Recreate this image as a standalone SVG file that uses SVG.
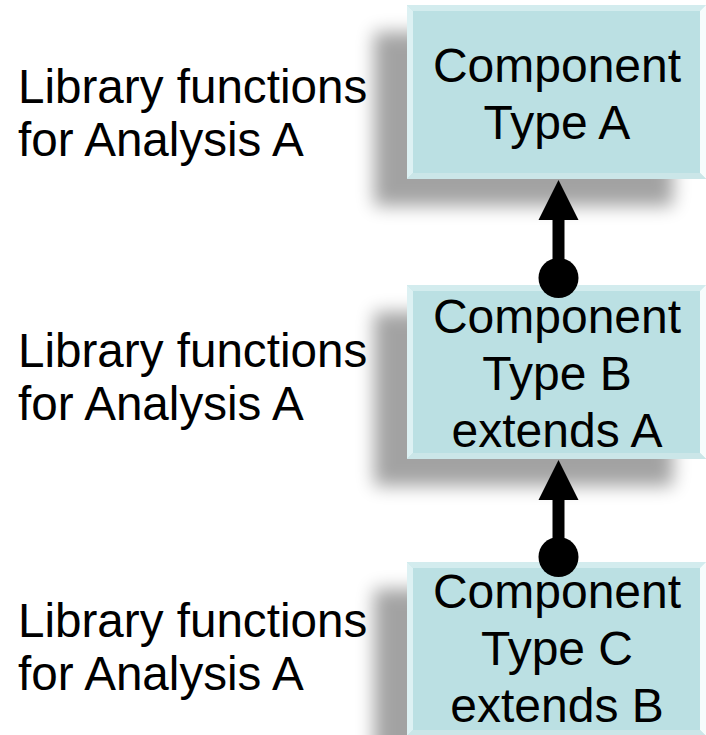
<svg xmlns="http://www.w3.org/2000/svg" width="706" height="735" viewBox="0 0 706 735">
  <style>
    .lbl { font-family: "Liberation Sans", Arial, sans-serif; font-size: 48px; fill: #000; }
    .cap { font-size: 47.6px; }
    .mid { text-anchor: middle; }
    .face { fill: #BBE0E3; }
    .fl { fill: #DDF1F3; }
    .ft { fill: #D3ECEE; }
    .fr { fill: #F6FCFC; }
    .fb { fill: #CBE6E8; }
    .shadow { fill: #000; opacity: 0.36; filter: url(#blur); }
    .wire { stroke: #000; stroke-width: 12; fill: none; }
  </style>
  <defs>
    <filter id="blur" x="-25%" y="-25%" width="150%" height="150%">
      <feGaussianBlur stdDeviation="9"/>
    </filter>
    <!-- bevelled box, 299 wide x 174 high -->
    <g id="bevelBox">
      <rect class="face" x="0" y="0" width="299" height="174"/>
      <polygon class="ft" points="0,0 299,0 293,6 6,6"/>
      <polygon class="fl" points="0,0 6,6 6,168 0,174"/>
      <polygon class="fr" points="299,0 299,174 293,168 293,6"/>
      <polygon class="fb" points="0,174 6,168 293,168 299,174"/>
    </g>
  </defs>

  <!-- drop shadows -->
  <g id="shadows">
    <rect class="shadow" x="374" y="32" width="299" height="174"/>
    <rect class="shadow" x="374" y="312" width="299" height="174"/>
    <rect class="shadow" x="374" y="589" width="299" height="174"/>
  </g>

  <!-- left-hand captions -->
  <g id="libA1">
    <text class="lbl cap" x="18" y="103">Library functions</text>
    <text class="lbl cap" x="18" y="156">for Analysis A</text>
  </g>
  <g id="libA2">
    <text class="lbl cap" x="18" y="367">Library functions</text>
    <text class="lbl cap" x="18" y="420">for Analysis A</text>
  </g>
  <g id="libA3">
    <text class="lbl cap" x="18" y="637">Library functions</text>
    <text class="lbl cap" x="18" y="690">for Analysis A</text>
  </g>

  <!-- component boxes -->
  <g id="compA">
    <use href="#bevelBox" x="407" y="5"/>
    <text class="lbl mid" x="557" y="82">Component</text>
    <text class="lbl mid" x="557" y="139">Type A</text>
  </g>
  <g id="compB">
    <use href="#bevelBox" x="407" y="285"/>
    <text class="lbl mid" x="557" y="333">Component</text>
    <text class="lbl mid" x="557" y="390">Type B</text>
    <text class="lbl mid" x="557" y="447">extends A</text>
  </g>
  <g id="compC">
    <use href="#bevelBox" x="407" y="562"/>
    <text class="lbl mid" x="557" y="608">Component</text>
    <text class="lbl mid" x="557" y="665">Type C</text>
    <text class="lbl mid" x="557" y="722">extends B</text>
  </g>

  <!-- inheritance connectors -->
  <g id="connectors">
    <line class="wire" x1="558.5" y1="278" x2="558.5" y2="219"/>
    <path d="M558.5 180 L578.5 220 L538.5 220 Z" fill="#000"/>
    <circle cx="558.5" cy="278" r="20" fill="#000"/>
    <line class="wire" x1="558.5" y1="557" x2="558.5" y2="499"/>
    <path d="M558.5 460 L578.5 500 L538.5 500 Z" fill="#000"/>
    <circle cx="558.5" cy="557" r="20" fill="#000"/>
  </g>
</svg>
